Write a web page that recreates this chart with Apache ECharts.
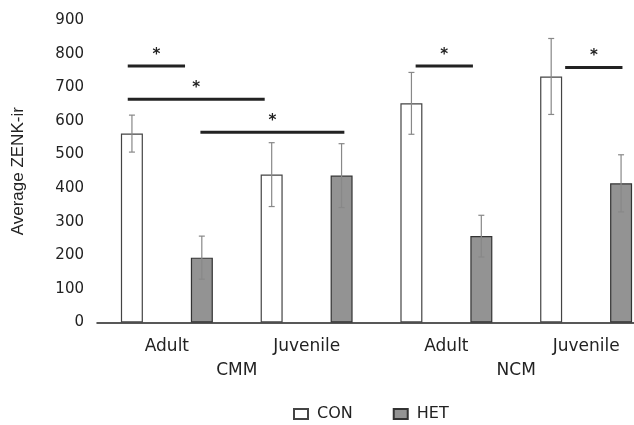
<!DOCTYPE html>
<html>
<head>
<meta charset="utf-8">
<script src="https://cdn.jsdelivr.net/npm/echarts@6/dist/echarts.min.js"></script>
<style>
html, body { margin: 0; padding: 0; background: #fff; }
#root { width: 634px; height: 425px; }
</style>
</head>
<body>
<div id="root"></div>
<script>
var categories = ['Adult', 'Juvenile', 'Adult', 'Juvenile'];
var regions = ['CMM', 'NCM'];
var conMean = [562, 440, 652, 732];
var conErr = [55, 95, 92, 113];
var hetMean = [193, 437, 257, 414];
var hetErr = [64, 95, 62, 85];
// significance bars: [x from, x to, y] in category units
var sigBars = [
    [-0.28, 0.13, 763],
    [-0.28, 0.70, 664],
    [0.24, 1.27, 566],
    [1.78, 2.19, 763],
    [2.85, 3.26, 759]
];

var root = document.getElementById('root');
var myCharts = echarts.init(root);
var font = 'DejaVu Sans';

function errorSeries(name, mean, err, side) {
    var data = mean.map(function (m, i) { return [i, m - err[i], m + err[i]]; });
    return {
        type: 'custom',
        name: name + ' err',
        xAxisIndex: 0,
        z: 5,
        silent: true,
        renderItem: function (params, api) {
            var i = api.value(0);
            var lo = api.coord([i, api.value(1)]);
            var hi = api.coord([i, api.value(2)]);
            var off = api.size([1, 0])[0] * 0.25 * side;
            var x = lo[0] + off;
            var w = 3;
            var st = { stroke: '#888', lineWidth: 1.2 };
            return {
                type: 'group',
                children: [
                    { type: 'line', shape: { x1: x, y1: lo[1], x2: x, y2: hi[1] }, style: st },
                    { type: 'line', shape: { x1: x - w, y1: lo[1], x2: x + w, y2: lo[1] }, style: st },
                    { type: 'line', shape: { x1: x - w, y1: hi[1], x2: x + w, y2: hi[1] }, style: st }
                ]
            };
        },
        data: data
    };
}

var series = [
    {
        name: 'CON',
        type: 'bar',
        data: conMean,
        barWidth: 22,
        barGap: '218%',
        itemStyle: { color: '#ffffff', borderColor: '#444', borderWidth: 1.2 }
    },
    {
        name: 'HET',
        type: 'bar',
        data: hetMean,
        barWidth: 22,
        itemStyle: { color: '#939393', borderColor: '#333', borderWidth: 1.2 }
    },
    errorSeries('CON', conMean, conErr, -1),
    errorSeries('HET', hetMean, hetErr, 1)
];

sigBars.forEach(function (s, k) {
    series.push({
        type: 'line',
        name: 'sig' + k,
        xAxisIndex: 2,
        silent: true,
        symbol: 'none',
        lineStyle: { color: '#222', width: 3 },
        data: [[s[0], s[2]], [s[1], s[2]]],
        markPoint: {
            symbol: 'circle',
            symbolSize: 0,
            data: [{ coord: [(s[0] + s[1]) / 2, s[2]] }],
            label: {
                show: true,
                formatter: '*',
                color: '#222',
                fontFamily: font,
                fontSize: 15,
                fontWeight: 'bold',
                offset: [0, -11]
            }
        }
    });
});

var option = {
    animation: false,
    grid: { left: 97, right: -22, top: 20, bottom: 102.5, outerBoundsMode: 'none', containLabel: false },
    legend: {
        data: ['CON', 'HET'],
        left: 288,
        top: 401,
        icon: 'rect',
        itemWidth: 14,
        itemHeight: 10,
        itemGap: 40,
        textStyle: { fontFamily: font, fontSize: 16, color: '#222', padding: [0, 0, 0, 4] }
    },
    xAxis: [
        {
            type: 'category',
            data: categories,
            axisLine: { lineStyle: { color: '#222', width: 1.5 } },
            axisTick: { show: false },
            axisLabel: { fontFamily: font, fontSize: 17, color: '#222', margin: 16 }
        },
        {
            type: 'category',
            data: regions,
            position: 'bottom',
            offset: 24,
            axisLine: { show: false },
            axisTick: { show: false },
            axisLabel: { fontFamily: font, fontSize: 17, color: '#222', margin: 16 }
        },
        {
            type: 'value',
            min: -0.5,
            max: 3.5,
            show: false
        }
    ],
    yAxis: {
        type: 'value',
        min: 0,
        max: 900,
        interval: 100,
        name: 'Average ZENK-ir',
        nameLocation: 'middle',
        nameGap: 70,
        nameTextStyle: { fontFamily: 'Liberation Sans', fontSize: 17, color: '#222' },
        axisLine: { show: false },
        axisTick: { show: false },
        splitLine: { show: false },
        axisLabel: { fontFamily: font, fontSize: 15, color: '#222', margin: 13 }
    },
    series: series
};
myCharts.setOption(option);
</script>
</body>
</html>
